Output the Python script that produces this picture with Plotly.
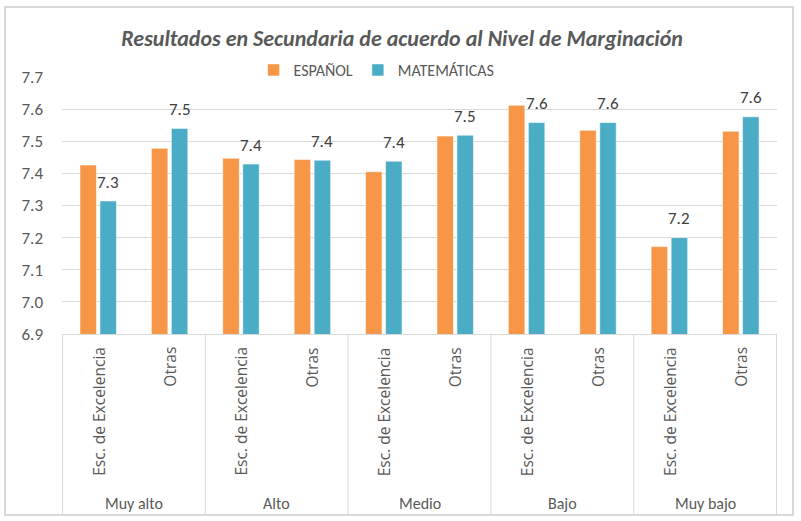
import plotly.graph_objects as go

groups = ["Muy alto", "Alto", "Medio", "Bajo", "Muy bajo"]
subcats = ["Esc. de Excelencia", "Otras"]
espanol = [7.426, 7.478, 7.447, 7.443, 7.405, 7.516, 7.612, 7.534, 7.172, 7.531]
matematicas = [7.314, 7.540, 7.429, 7.441, 7.438, 7.519, 7.558, 7.558, 7.200, 7.576]
y_ticks = [6.9, 7.0, 7.1, 7.2, 7.3, 7.4, 7.5, 7.6, 7.7]

cats = [f"{g}|{s}" for g in groups for s in subcats]
sub_of = [s for g in groups for s in subcats]

ORANGE = "#F79646"
BLUE = "#4BACC6"
GREY = "#595959"
GRID = "#d9d9d9"
FONT = "Carlito, Calibri, Lato, sans-serif"

fig = go.Figure()
fig.add_trace(go.Bar(x=cats, y=espanol, name="ESPAÑOL", marker=dict(color=ORANGE, line=dict(color="rgba(255,255,255,0.55)", width=1))))
fig.add_trace(go.Bar(x=cats, y=matematicas, name="MATEMÁTICAS", marker=dict(color=BLUE, line=dict(color="rgba(255,255,255,0.55)", width=1))))

ann = []
for c, v in zip(cats, matematicas):
    ann.append(dict(x=c, y=v, xref="x", yref="y", text=f"{v:.1f}", showarrow=False,
                    xshift=10, yshift=19, font=dict(family=FONT, size=17, color="#404040")))
for c, s in zip(cats, sub_of):
    ann.append(dict(x=c, y=-0.043, xref="x", yref="paper", text=s, textangle=-90,
                    showarrow=False, xanchor="center", yanchor="top",
                    font=dict(family="Open Sans, sans-serif", size=15.5, color=GREY)))
for i, g in enumerate(groups):
    ann.append(dict(x=2 * i + 0.5, y=-0.658, xref="x", yref="paper", text=g,
                    showarrow=False, xanchor="center", yanchor="middle",
                    font=dict(family=FONT, size=16, color=GREY)))

shapes = []
for i in range(len(groups) + 1):
    xv = 2 * i - 0.5
    shapes.append(dict(type="line", xref="x", yref="paper", x0=xv, x1=xv, y0=0, y1=-0.704,
                       line=dict(color=GRID, width=1)))
shapes.append(dict(type="rect", xref="paper", yref="paper", x0=-0.0797, x1=1.0224, y0=-0.704, y1=1.2724,
                   line=dict(color=GRID, width=2), fillcolor="rgba(0,0,0,0)"))

fig.update_layout(
    width=801, height=521,
    margin=dict(l=62, r=24, t=77, b=187),
    paper_bgcolor="white", plot_bgcolor="white",
    barmode="group", bargap=0.44, bargroupgap=0.175,
    title=dict(text="<b><i>Resultados en Secundaria de acuerdo al Nivel de Marginación</i></b>",
               x=0.502, xanchor="center", y=1 - 38 / 521, yanchor="middle", yref="container",
               font=dict(family=FONT, size=22, color=GREY)),
    legend=dict(orientation="h", x=0.44, xanchor="center", y=1.027, yanchor="middle",
                font=dict(family=FONT, size=16, color=GREY), itemwidth=30, bgcolor="rgba(0,0,0,0)"),
    xaxis=dict(type="category", categoryorder="array", categoryarray=cats, showticklabels=False,
               showline=True, linecolor=GRID, linewidth=1, showgrid=False, ticks=""),
    yaxis=dict(range=[6.9, 7.7], tickvals=y_ticks, tickformat=".1f", showgrid=True, gridcolor=GRID,
               zeroline=False, showline=False, ticklabelstandoff=18,
               tickfont=dict(family=FONT, size=17, color=GREY)),
    annotations=ann, shapes=shapes, showlegend=True,
)

fig.write_html("out.html", config={"displayModeBar": False},
               post_script="document.body.style.margin='0';")
